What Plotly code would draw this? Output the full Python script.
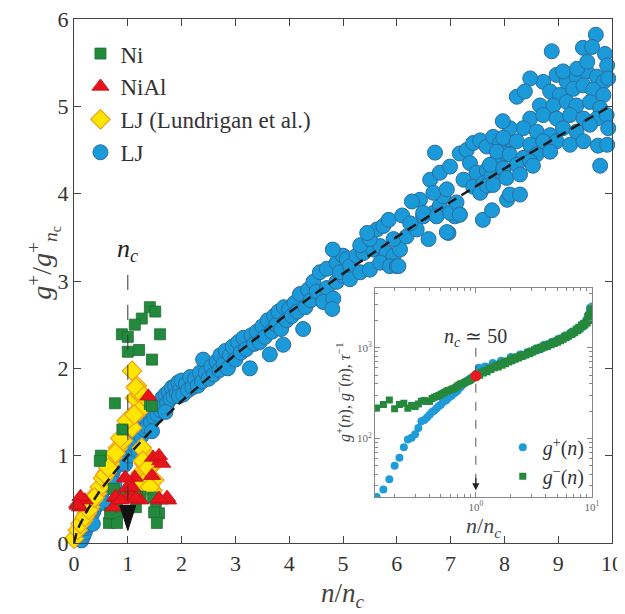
import plotly.graph_objects as go
import math

SERIF = "Liberation Serif"

# ---------------- main panel data ----------------
# LJ (this work)
lj_x = [0.14,0.17,0.2,0.22,0.25,0.27,0.3,0.33,0.36,0.39,0.42,0.45,0.48,0.51,0.54,0.57,0.6,0.63,0.66,0.69,
        0.72,0.75,0.78,0.81,0.84,0.87,0.9,0.93,0.96,0.99,
        0.2,0.3,0.4,0.5,0.6,0.7,0.8,0.9,0.35,0.55,0.75,0.95,
        1.02,1.05,1.08,1.1,1.13,1.16,1.19,1.22,1.25,1.28,1.31,1.34,1.37,1.4,1.43,1.46,1.49,1.52,1.55,1.58,
        1.61,1.64,1.67,1.7,1.73,1.76,1.79,1.82,1.85,1.88,1.91,1.94,1.97,2.0,1.2,1.45,1.7,1.95,
        2.03,2.08,2.12,2.16,2.2,2.25,2.3,2.34,2.4,2.38,2.45,2.5,2.55,2.6,2.65,2.7,2.72,2.78,2.82,2.86,
        2.9,2.95,3.0,3.05,3.1,3.15,3.2,3.27,3.3,3.35,3.4,3.45,3.5,3.55,3.6,3.64,3.68,3.72,3.76,3.8,
        3.85,3.89,3.9,3.95,4.0,
        4.05,4.1,4.15,4.2,4.26,4.3,4.35,4.4,4.45,4.57,4.7,4.88,5.0,4.51,4.7,4.88,5.0,4.63,4.82,4.8,4.81,
        4.94,5.07,5.13,5.25,5.38,5.56,5.69,5.81,5.94,6.06,5.13,5.32,5.5,5.69,5.87,6.0,
        5.32,5.5,5.63,5.75,5.94,6.03,6.18,6.37,6.49,6.59,6.68,6.8,6.86,6.96,7.08,7.17,
        5.45,5.85,6.1,6.25,
        6.62,6.8,6.99,6.43,6.68,6.93,6.28,6.49,6.74,6.99,7.11,6.71,
        7.17,7.3,7.42,7.55,7.67,7.79,7.92,8.04,7.36,7.48,7.67,7.86,8.04,7.24,7.42,7.61,7.76,7.98,
        7.6,7.77,7.55,7.68,6.93,7.17,8.05,
        8.72,8.97,9.16,9.34,9.53,9.72,9.84,8.85,9.03,9.28,9.47,9.65,9.84,8.66,8.91,9.16,9.34,9.59,9.78,
        8.48,8.72,8.97,9.22,9.47,9.72,9.9,8.35,8.6,8.85,9.09,9.34,9.59,8.1,7.98,8.23,8.48,8.72,8.97,9.22,
        9.47,7.86,8.1,8.35,8.6,8.85,7.73,7.98,8.23,8.48,7.79,8.04,8.29,
        9.70,8.88,9.46,9.63,9.87,8.48,8.23,8.38,9.09,9.35,9.54,9.91,9.93,9.74,9.91,9.78,9.93,8.53,8.1,
        8.29,7.97]
lj_y = [0.03,0.08,0.12,0.17,0.2,0.25,0.28,0.33,0.36,0.41,0.44,0.49,0.52,0.57,0.6,0.64,0.67,0.72,0.74,0.79,
        0.81,0.86,0.88,0.93,0.95,1.0,1.01,1.06,1.07,1.11,
        0.2,0.36,0.5,0.63,0.75,0.86,0.97,1.08,0.22,0.46,0.68,0.9,
        1.0,1.15,1.08,1.22,1.12,1.28,1.18,1.3,1.22,1.38,1.3,1.42,1.33,1.48,1.38,1.52,1.44,1.58,1.47,1.6,
        1.52,1.66,1.56,1.7,1.6,1.73,1.65,1.78,1.68,1.8,1.72,1.84,1.75,1.86,1.05,1.28,1.5,1.68,
        1.7,1.82,1.75,1.9,1.78,1.88,1.8,1.95,2.1,1.85,1.95,1.88,2.02,1.93,2.08,1.98,2.15,2.05,2.2,2.0,
        2.15,2.25,2.1,2.3,2.18,2.35,2.22,2.0,2.38,2.28,2.42,2.3,2.48,2.36,2.55,2.16,2.42,2.6,2.5,2.65,
        2.45,2.27,2.7,2.55,2.68,
        2.6,2.75,2.65,2.85,2.45,2.7,2.9,2.78,2.99,3.1,3.14,3.21,3.29,2.88,2.92,2.99,3.06,2.76,2.8,2.68,3.36,
        3.1,3.25,3.17,3.29,3.32,3.36,3.4,3.32,3.29,3.36,3.02,3.1,3.13,3.21,3.17,3.17,
        3.41,3.48,3.59,3.63,3.48,3.17,3.51,3.59,3.74,3.48,3.78,3.86,3.97,3.55,3.74,3.76,
        3.55,3.7,3.75,3.66,
        4.16,4.24,4.31,3.93,4.01,4.05,3.91,3.78,3.74,3.78,3.9,4.47,
        4.46,4.5,4.58,4.61,4.54,4.65,4.58,4.61,4.35,4.24,4.27,4.39,4.46,4.16,4.08,4.12,4.2,4.27,
        3.7,3.81,4.01,4.09,3.56,3.76,3.93,
        5.28,5.36,5.28,5.34,5.4,5.34,5.28,5.17,5.13,5.2,5.24,5.19,5.13,5.01,5.01,5.05,5.01,5.05,4.98,
        4.86,4.9,4.86,4.9,4.86,4.86,4.9,4.75,4.71,4.67,4.75,4.71,4.79,4.75,4.64,4.6,4.56,4.6,4.6,4.56,
        4.6,4.48,4.45,4.41,4.45,4.48,4.33,4.29,4.33,4.37,4.1,4.18,4.22,
        5.82,5.63,5.67,5.68,5.60,5.32,5.11,5.17,5.40,5.43,5.51,5.47,5.32,4.55,4.56,4.32,4.75,4.32,3.99,
        3.99,4.83]

# Ni
ni_x = [1.41,1.51,1.26,1.13,0.89,1.0,1.6,1.0,1.21,1.45,0.76,1.41,1.45,0.5,0.74,0.8,0.97,1.24,1.15,
        0.8,0.89,1.52,1.58,0.65,0.8,1.49,0.67,1.54,1.17,0.95,0.9,0.48,1.47]
ni_y = [2.70,2.65,2.57,2.50,2.39,2.36,2.39,2.19,2.21,2.10,1.60,1.59,1.57,1.0,0.62,0.51,0.55,0.53,0.41,
        0.41,0.36,0.47,0.34,0.23,0.23,0.35,0.34,0.23,0.53,0.57,1.3,0.94,0.52]

# NiAl
nial_x = [1.38,1.6,1.47,1.64,0.95,1.13,0.98,1.08,0.76,0.73,0.98,1.08,1.23,1.6,1.75,0.11,0.2,
          1.58,1.73,1.58,0.77,0.87,1.15,0.96,0.06,0.12,1.45,0.07]
nial_y = [1.68,0.94,0.98,0.91,0.75,0.75,0.63,0.64,0.52,0.41,0.51,0.52,0.49,0.49,0.49,0.41,0.49,
          1.0,0.52,0.51,0.53,0.49,0.51,0.74,0.45,0.53,0.77,0.43]

# LJ (Lundrigan et al.)
lun_x = [0.0,0.07,0.17,0.24,0.3,0.35,0.43,0.48,0.54,0.61,0.67,0.72,0.82,0.91,0.86,1.08,0.98,1.13,
         1.13,1.23,1.17,1.08,1.15,1.3,1.21,1.12,0.12,0.2,0.27,0.38,0.58,0.64,0.77,
         1.36,1.43,1.39,1.49,1.33,1.46,1.30,1.24,1.18,1.26,1.28,1.38,1.28,1.41]
lun_y = [0.05,0.15,0.26,0.34,0.41,0.49,0.57,0.64,0.74,0.81,0.91,0.98,1.09,1.17,1.2,1.32,1.4,1.49,
         1.66,1.7,1.8,1.97,1.78,1.68,1.51,1.47,0.22,0.3,0.38,0.52,0.78,0.86,1.03,
         1.0,0.87,0.77,0.72,0.68,0.6,0.91,0.8,0.72,1.09,0.94,0.86,0.68,0.64]

# fitted curve (dashed)
fit_x = [0.0,0.05,0.1,0.25,0.5,1.0,1.5,2.0,3.0,4.0,5.0,6.0,7.0,8.0,9.0,10.0]
fit_y = [0.0,0.123,0.2,0.379,0.616,1.0,1.328,1.625,2.158,2.639,3.085,3.505,3.905,4.287,4.656,5.012]

# n_c marker line
nc_x = [1.0, 1.0]
nc_line_y = [0.15, 3.15]
nc_label_y = 3.36
nc_marker_y = 0.43

# ---------------- inset data ----------------
gp_x = [0.14,0.16,0.18,0.2,0.22,0.24,0.26,0.28,0.3,0.32,0.34,0.36,0.38,0.4,0.42,0.44,0.46,0.48,0.5,0.52,
        0.54,0.56,0.58,0.6,0.62,0.64,0.66,0.68,0.7,0.72,0.74,0.76,0.78,0.8,0.82,0.84,0.86,0.88,0.9,0.92,
        0.94,0.96,0.98,
        1.02,1.06,1.1,1.15,1.2,1.3,1.4,1.5,1.65,1.8,2.0,2.2,2.4,2.6,2.8,3.0,3.3,3.6,3.9,4.2,4.5,4.8,5.1,
        5.4,5.8,6.2,6.6,7.0,7.4,7.8,8.2,8.6,9.0,9.3,9.6,9.8,10.0,9.9]
gp_y = [22.6,27.3,35.4,50,61,80,97,102,111,130,155,160,170,182,195,203,215,228,235,250,
        258,265,280,290,298,310,318,330,340,360,370,385,400,410,420,428,440,448,455,465,
        472,480,488,
        520,600,560,590,620,610,680,650,720,700,790,760,840,820,900,880,980,960,1080,1050,1160,1130,1250,
        1220,1350,1320,1480,1450,1620,1580,1800,1750,2050,2300,2750,2500,2850,2200]

gm_x = [0.14,0.16,0.18,0.2,0.22,0.24,0.26,0.28,0.3,0.32,0.34,0.36,0.38,0.4,0.42,0.44,0.46,0.48,0.5,0.52,
        0.54,0.56,0.58,0.6,0.62,0.64,0.66,0.68,0.7,0.72,0.74,0.76,0.78,0.8,0.82,0.84,0.86,0.88,0.9,0.92,
        0.94,0.96,0.98,
        1.04,1.08,1.12,1.16,1.2,1.25,1.3,1.35,1.4,1.45,1.5,1.56,1.62,1.68,1.74,1.8,1.86,1.92,1.98,2.04,
        2.1,2.18,2.26,2.34,2.42,2.5,2.6,2.7,2.8,2.9,3.0,3.1,3.2,3.3,3.4,3.5,3.6,3.7,3.8,3.9,4.0,4.15,4.3,
        4.45,4.6,4.75,4.9,5.05,5.2,5.35,5.5,5.65,5.8,5.95,6.1,6.3,6.5,6.7,6.9,7.1,7.3,7.5,7.7,7.9,8.1,8.3,
        8.5,8.7,8.9,9.1,9.3,9.5,9.7,9.9,10.0,9.8,9.6,9.4,9.2,9.95]
gm_y = [217,237,266,212,237,244,215,231,225,240,257,262,255,257,275,284,290,297,305,315,
        322,331,337,340,348,352,360,370,382,388,399,402,405,412,420,426,430,434,445,455,
        465,472,480,
        515,498,540,525,560,545,590,575,615,600,640,612,665,640,690,668,715,695,740,720,
        770,745,795,770,820,800,850,830,885,860,920,895,950,925,985,955,1010,985,1045,1015,1075,1040,1110,
        1080,1150,1115,1190,1150,1230,1195,1280,1240,1330,1290,1380,1340,1440,1400,1520,1470,1600,1540,1680,1620,1770,1700,
        1860,1790,1960,1880,2080,1980,2250,2150,2400,2600,2450,2300,2200,2700]

nc_point_x = [1.0]
nc_point_y = [490]
arrow_y = [1000, 30]
inset_label_y = 1290

inset_x_ticks = [1, 10]
inset_x_ticktext = ['10<sup>0</sup>', '10<sup>1</sup>']
inset_y_ticks = [100, 1000]
inset_y_ticktext = ['10<sup>2</sup>', '10<sup>3</sup>']
inset_x_minor = [0.2, 0.3, 0.4, 0.5, 0.6, 0.7, 0.8, 0.9, 2, 3, 4, 5, 6, 7, 8, 9]
inset_y_minor = [30, 40, 50, 60, 70, 80, 90, 200, 300, 400, 500, 600, 700, 800, 900, 2000, 3000, 4000]

# ---------------- figure ----------------
fig = go.Figure()

fig.add_trace(go.Scatter(x=lj_x, y=lj_y, mode='markers', name='LJ', legendrank=4,
                         marker=dict(symbol='circle', size=15, color='#1a9ad8',
                                     line=dict(color='#2c6d9f', width=1)), cliponaxis=False))
fig.add_trace(go.Scatter(x=lun_x, y=lun_y, mode='markers', name='LJ (Lundrigan et al.)', legendrank=3,
                         marker=dict(symbol='diamond', size=15, color='#ffe500',
                                     line=dict(color='#eba21c', width=1.2)), cliponaxis=False))
fig.add_trace(go.Scatter(x=ni_x, y=ni_y, mode='markers', name='Ni', legendrank=1,
                         marker=dict(symbol='square', size=11, color='#23893d',
                                     line=dict(color='#1d6e32', width=0.8)), cliponaxis=False))
fig.add_trace(go.Scatter(x=nial_x, y=nial_y, mode='markers', name='NiAl', legendrank=2,
                         marker=dict(symbol='triangle-up', size=15, color='#e8141c',
                                     line=dict(color='#c01016', width=0.8)), cliponaxis=False))
fig.add_trace(go.Scatter(x=fit_x, y=fit_y, mode='lines', showlegend=False,
                         line=dict(color='#1a1a1a', width=2.5, dash='10px,6px')))
fig.add_trace(go.Scatter(x=nc_x, y=nc_line_y, mode='lines', showlegend=False,
                         line=dict(color='#333333', width=1, dash='longdash')))

# black downward triangle at n_c
fig.add_shape(type='path', xref='x', yref='y', xsizemode='pixel', ysizemode='pixel',
              xanchor=nc_x[0], yanchor=nc_marker_y,
              path='M -8 0 L 8 0 L 0 -25 Z', fillcolor='#111111', line=dict(color='#111111', width=1))

fig.add_annotation(x=nc_x[0], y=nc_label_y, xref='x', yref='y', text='<i>n<sub>c</sub></i>',
                   showarrow=False, font=dict(family=SERIF, size=26, color='#222222'))

# inset traces
fig.add_trace(go.Scatter(x=gp_x, y=gp_y, xaxis='x2', yaxis='y2', mode='markers', name='<i>g</i><sup>+</sup>(<i>n</i>)',
                         legend='legend2', marker=dict(symbol='circle', size=8, color='#1f9bd9')))
fig.add_trace(go.Scatter(x=gm_x, y=gm_y, xaxis='x2', yaxis='y2', mode='markers', name='<i>g</i><sup>\u2212</sup>(<i>n</i>)',
                         legend='legend2', marker=dict(symbol='square', size=7, color='#26883c')))
fig.add_trace(go.Scatter(x=nc_point_x, y=nc_point_y, xaxis='x2', yaxis='y2', mode='markers', showlegend=False,
                         marker=dict(symbol='circle', size=11, color='#f0141e')))
fig.add_trace(go.Scatter(x=[nc_point_x[0]] * 2, y=arrow_y, xaxis='x2', yaxis='y2', mode='lines', showlegend=False,
                         line=dict(color='#555555', width=1, dash='dash')))
fig.add_annotation(x=0, y=math.log10(arrow_y[1]) - 0.05, xref='x2', yref='y2', ax=0, ay=-14,
                   axref='pixel', ayref='pixel', showarrow=True, arrowhead=2, arrowsize=1.2,
                   arrowwidth=1.2, arrowcolor='#222222', text='')
fig.add_annotation(x=0, y=math.log10(inset_label_y), xref='x2', yref='y2',
                   text='<i>n<sub>c</sub></i> \u2243 50', showarrow=False,
                   font=dict(family=SERIF, size=20, color='#333333'))

# axis titles as annotations
fig.add_annotation(x=-0.1, y=0.535, xref='paper', yref='paper', textangle=-90,
                   text='<i>g</i><sup>+</sup>/<i>g</i><sup>+</sup><sub><i>n</i><sub>c</sub></sub>',
                   showarrow=False, font=dict(family=SERIF, size=28, color='#444444'))
fig.add_annotation(x=0.5, y=-0.135, xref='paper', yref='paper',
                   text='<i>n</i>/<i>n<sub>c</sub></i>',
                   showarrow=False, font=dict(family=SERIF, size=27, color='#444444'))

axis_col = '#444444'
minor_col = '#888888'
fig.update_layout(
    width=617, height=606,
    margin=dict(l=66, r=13, t=11, b=71, autoexpand=False),
    paper_bgcolor='white', plot_bgcolor='white',
    font=dict(family=SERIF, color='#333333'),
    xaxis=dict(range=[0, 10], tickvals=list(range(11)), ticks='inside', ticklen=7, tickcolor=axis_col,
               showline=True, linecolor=axis_col, linewidth=1.3, mirror='ticks', showgrid=False, zeroline=False,
               tickfont=dict(size=22, color='#333333'), automargin=False, ticklabeloverflow='allow'),
    yaxis=dict(range=[0, 6], tickvals=list(range(7)), ticks='inside', ticklen=7, tickcolor=axis_col,
               showline=True, linecolor=axis_col, linewidth=1.3, mirror='ticks', showgrid=False, zeroline=False,
               tickfont=dict(size=22, color='#333333'), automargin=False, ticklabeloverflow='allow'),
    xaxis2=dict(type='log', domain=[0.5595, 0.9628], anchor='y2', range=[-0.868, 1.0],
                tickmode='array', tickvals=inset_x_ticks, ticktext=inset_x_ticktext, ticks='inside', ticklen=5,
                minor=dict(ticks='inside', ticklen=3, tickcolor=minor_col, tickmode='array',
                           tickvals=inset_x_minor, showgrid=False),
                showline=True, linecolor=minor_col, linewidth=1, mirror='ticks', showgrid=False, zeroline=False,
                tickcolor=minor_col, tickfont=dict(size=11, color='#666666'), automargin=False,
                title=dict(text='<i>n</i>/<i>n<sub>c</sub></i>', font=dict(size=22, color='#444444'), standoff=2)),
    yaxis2=dict(type='log', domain=[0.088, 0.4873], anchor='x2', range=[1.355, 3.663],
                tickmode='array', tickvals=inset_y_ticks, ticktext=inset_y_ticktext, ticks='inside', ticklen=5,
                minor=dict(ticks='inside', ticklen=3, tickcolor=minor_col, tickmode='array',
                           tickvals=inset_y_minor, showgrid=False),
                showline=True, linecolor=minor_col, linewidth=1, mirror='ticks', showgrid=False, zeroline=False,
                tickcolor=minor_col, tickfont=dict(size=11, color='#666666'), automargin=False,
                title=dict(text='<i>g</i><sup>+</sup>(<i>n</i>), <i>g</i><sup>\u2212</sup>(<i>n</i>), <i>\u03c4</i><sup>\u22121</sup>',
                           font=dict(size=16, color='#444444'), standoff=2)),
    legend=dict(x=0.012, y=0.975, xanchor='left', yanchor='top', bgcolor='rgba(0,0,0,0)',
                font=dict(family=SERIF, size=23, color='#333333'), tracegroupgap=0),
    legend2=dict(x=0.797, y=0.22, xanchor='left', yanchor='top', bgcolor='rgba(0,0,0,0)',
                 font=dict(family=SERIF, size=20, color='#333333'), tracegroupgap=0),
)

fig.write_html("out.html")
